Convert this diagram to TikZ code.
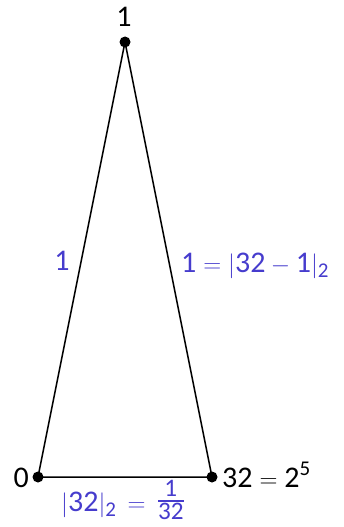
\documentclass[tikz,border=0pt]{standalone}
\usepackage{amsmath}
\usepackage{graphicx}
\usepackage{fontspec}
\setmainfont{Carlito}
\definecolor{lblue}{RGB}{70,60,205}
\newcommand{\tx}[1]{\text{#1}}
\tikzset{
  dot/.style={circle,fill=black,inner sep=0pt,minimum size=11pt},
  edge/.style={draw=black,line width=1.5pt},
  lab/.style={inner sep=0pt,font=\fontsize{30}{34}\selectfont},
  blab/.style={lab,text=lblue},
}
\begin{document}
\begin{tikzpicture}[x=1pt,y=-1pt]
\useasboundingbox (0,0) rectangle (343,527);
\node[dot] (t) at (125,42) {};
\node[dot] (a) at (38,477) {};
\node[dot] (b) at (212,477) {};
\draw[edge] (t.center) -- (a.center) -- (b.center) -- (t.center);
\node[lab,anchor=base] (tl) at (124,27) {1};
\node[lab,anchor=base east] (al) at (29,487) {0};
\node[lab,anchor=base west] (bl) at (222,487) {$\tx{32} = \tx{2}^{\tx{5}}$};
\node[blab,anchor=base] (el) at (62,270) {1};
\node[blab,anchor=base west] (er) at (181,272) {$\tx{1} = |\tx{32} - \tx{1}|_{\tx{2}}$};
\node[blab,anchor=base west] (eb) at (61,511) {$|\tx{32}|_{\tx{2}} \mathrel{\,=\,} \raisebox{2.5pt}{\scalebox{1.2}{$\frac{\tx{1}}{\tx{32}}$}}$};
\end{tikzpicture}
\end{document}
